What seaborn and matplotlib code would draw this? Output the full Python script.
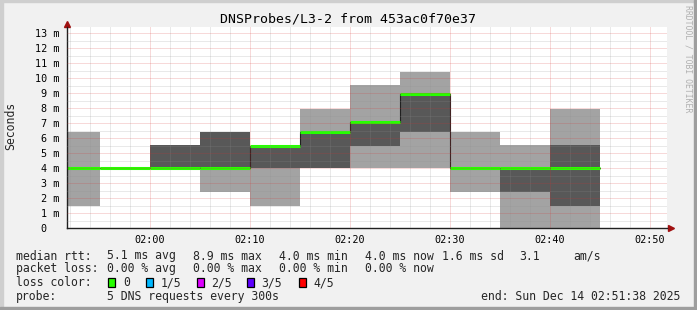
import matplotlib
matplotlib.use("Agg")
import matplotlib.pyplot as plt
import matplotlib.dates as mdates
import matplotlib.ticker as mticker
from matplotlib.patches import Rectangle
from matplotlib.transforms import ScaledTranslation
import pandas as pd
import seaborn as sns

# ---------------- data ----------------
day = "2025-12-14 "
bar_start = ["01:51:38", "01:55:00", "02:00:00", "02:05:00", "02:10:00", "02:15:00",
             "02:20:00", "02:25:00", "02:30:00", "02:35:00", "02:40:00"]
bar_end = ["01:55:00", "02:00:00", "02:05:00", "02:10:00", "02:15:00", "02:20:00",
           "02:25:00", "02:30:00", "02:35:00", "02:40:00", "02:45:00"]
# sorted pings (ms) per interval: min, 2nd, median, 4th, max
ping_min = [1.5, 4.0, 4.0, 2.44, 1.5, 4.0, 4.0, 4.0, 2.44, 0.0, 0.0]
ping_lo = [4.0, 4.0, 4.0, 4.0, 4.0, 4.0, 5.5, 6.44, 4.0, 2.44, 1.5]
median_rtt = [4.0, 4.0, 4.0, 4.0, 5.5, 6.44, 7.1, 8.93, 4.0, 4.0, 4.0]
ping_hi = [4.0, 4.0, 5.55, 6.44, 5.5, 6.44, 7.1, 8.93, 4.0, 4.0, 5.55]
ping_max = [6.44, 4.0, 5.55, 6.44, 5.5, 7.95, 9.55, 10.42, 6.44, 5.55, 7.95]

y_ticks = list(range(14))
y_tick_labels = ["0  "] + [f"{v} m" for v in range(1, 14)]

title = "DNSProbes/L3-2 from 453ac0f70e37"
x_start = "01:51:39"
x_end = "02:51:42"

legend_rows = [
    ["median rtt:", "5.1 ms avg", "8.9 ms max", "4.0 ms min", "4.0 ms now", "1.6 ms sd", "3.1", "am/s"],
    ["packet loss:", "0.00 % avg", "0.00 % max", "0.00 % min", "0.00 % now"],
]
loss_labels = ["0", "1/5", "2/5", "3/5", "4/5"]
loss_colors = ["#26ff00", "#00b8ff", "#dd00ff", "#5e00ff", "#ff0000"]
probe_text = "5 DNS requests every 300s"
end_text = "end: Sun Dec 14 02:51:38 2025"

# ---------------- style ----------------
sns.set_style("white")
plt.rcParams["font.family"] = ["DejaVu Sans Mono", "DejaVu Sans"]

W, H = 697, 310
fig = plt.figure(figsize=(W / 100, H / 100), dpi=100, facecolor="#f1f1f1")

def fx(x):
    return x / W

def fy(y):
    return 1 - y / H

# frame shading
fig.patches.append(Rectangle((0, fy(2)), 1, 2 / H, transform=fig.transFigure, color="#cfcfcf", zorder=0))
fig.patches.append(Rectangle((0, 0), 3 / W, 1, transform=fig.transFigure, color="#cfcfcf", zorder=0))
fig.patches.append(Rectangle((fx(694), 0), 3 / W, 1, transform=fig.transFigure, color="#9e9e9e", zorder=0))
fig.patches.append(Rectangle((0, 0), 1, 3 / H, transform=fig.transFigure, color="#9e9e9e", zorder=0))

ax_l, ax_r, ax_t, ax_b = 66.5, 667, 27, 228.3
ax = fig.add_axes([fx(ax_l), fy(ax_b), (ax_r - ax_l) / W, (ax_b - ax_t) / H])
ax.set_facecolor("white")

df = pd.DataFrame({
    "start": pd.to_datetime([day + s for s in bar_start]),
    "end": pd.to_datetime([day + s for s in bar_end]),
    "pmin": ping_min, "plo": ping_lo, "med": median_rtt, "phi": ping_hi, "pmax": ping_max,
})
s_num = mdates.date2num(df["start"])
e_num = mdates.date2num(df["end"])
wid = e_num - s_num

# smoke
ax.bar(s_num, df["pmax"] - df["pmin"], bottom=df["pmin"], width=wid, align="edge",
       color="#a3a3a3", linewidth=0, zorder=1)
ax.bar(s_num, df["phi"] - df["plo"], bottom=df["plo"], width=wid, align="edge",
       color="#585858", linewidth=0, zorder=1.1)

# median step line
step = pd.DataFrame({
    "t": list(df["start"]) + [df["end"].iloc[-1]],
    "m": list(df["med"]) + [df["med"].iloc[-1]],
})
sns.lineplot(data=step, x="t", y="m", drawstyle="steps-post", color="#202020",
             linewidth=0.8, ax=ax, zorder=1.5, estimator=None, sort=False)
ax.hlines(df["med"], s_num, e_num, colors="#26ff00", linewidth=2.2, zorder=2,
          capstyle="butt")

# axes
ax.set_xlim(pd.Timestamp(day + x_start), pd.Timestamp(day + x_end))
ax.set_ylim(0, (ax_b - ax_t) / 15.0)
ax.xaxis.set_major_locator(mdates.MinuteLocator(byminute=range(0, 60, 10)))
ax.xaxis.set_minor_locator(mdates.MinuteLocator(byminute=range(0, 60, 2)))
ax.xaxis.set_major_formatter(mdates.DateFormatter("%H:%M"))
ax.set_yticks(y_ticks)
ax.set_yticklabels(y_tick_labels)
ax.yaxis.set_minor_locator(mticker.MultipleLocator(0.5))
ax.set_xlabel("")
ax.set_ylabel("")

ax.set_axisbelow(False)
ax.grid(which="minor", color="#8f8f8f", alpha=0.38, linestyle=(0, (1, 1)), linewidth=0.72)
ax.grid(which="major", color="#d83030", alpha=0.36, linestyle=(0, (1, 1)), linewidth=0.72)

for side in ("top", "right"):
    ax.spines[side].set_visible(False)
for side in ("left", "bottom"):
    ax.spines[side].set_color("#202020")
    ax.spines[side].set_linewidth(1.0)

ax.tick_params(axis="both", which="major", length=2, width=0.7, color="#303030",
               labelsize=7.3, labelcolor="#000000", direction="out")
ax.tick_params(axis="both", which="minor", length=1.5, width=0.7, color="#303030", direction="out")
ax.tick_params(axis="y", which="major", pad=3.2)
ax.tick_params(axis="x", which="major", pad=2.5)
for lab in ax.get_yticklabels():
    lab.set_horizontalalignment("right")

# arrows
up = ax.transAxes + ScaledTranslation(0, 3 / 100, fig.dpi_scale_trans)
ax.plot([0], [1], marker="^", color="#a01010", markersize=4, transform=up, clip_on=False)
rt = ax.transAxes + ScaledTranslation(4 / 100, 0, fig.dpi_scale_trans)
ax.plot([1], [0], marker=">", color="#a01010", markersize=4, transform=rt, clip_on=False)

# texts
fig.text(fx(348), fy(19), title, ha="center", va="center", fontsize=9.5, color="black")
fig.text(fx(11), fy(126), "Seconds", rotation=90, ha="center", va="center", fontsize=8.3)
fig.text(fx(688), fy(59), "RRDTOOL / TOBI OETIKER", rotation=270, ha="center", va="center",
         fontsize=5.9, color="#b0b0b0")

col_x = [16, 107.3, 193.3, 279.3, 365, 441.7, 519.3, 573.3]
row_y = [256, 268.6, 282.5, 296.5]
for r, row in enumerate(legend_rows):
    for c, txt in enumerate(row):
        fig.text(fx(col_x[c]), fy(row_y[r]), txt, ha="left", va="center", fontsize=8.3)

fig.text(fx(16), fy(row_y[2]), "loss color:", ha="left", va="center", fontsize=8.3)
box_x = [108.3, 145.7, 197.3, 247.3, 299]
lab_x = [123.3, 160.7, 210.7, 261.7, 313.3]
for bx, lx, lab, col in zip(box_x, lab_x, loss_labels, loss_colors):
    fig.patches.append(Rectangle((fx(bx), fy(286.7)), 7 / W, 8.4 / H, transform=fig.transFigure,
                                 facecolor=col, edgecolor="black", linewidth=0.9, zorder=3))
    fig.text(fx(lx), fy(row_y[2]), lab, ha="left", va="center", fontsize=8.3)

fig.text(fx(16), fy(row_y[3]), "probe:", ha="left", va="center", fontsize=8.3)
fig.text(fx(107.3), fy(row_y[3]), probe_text, ha="left", va="center", fontsize=8.3)
fig.text(fx(680.7), fy(row_y[3]), end_text, ha="right", va="center", fontsize=8.3)

fig.savefig("out.png", dpi=100, facecolor=fig.get_facecolor())
